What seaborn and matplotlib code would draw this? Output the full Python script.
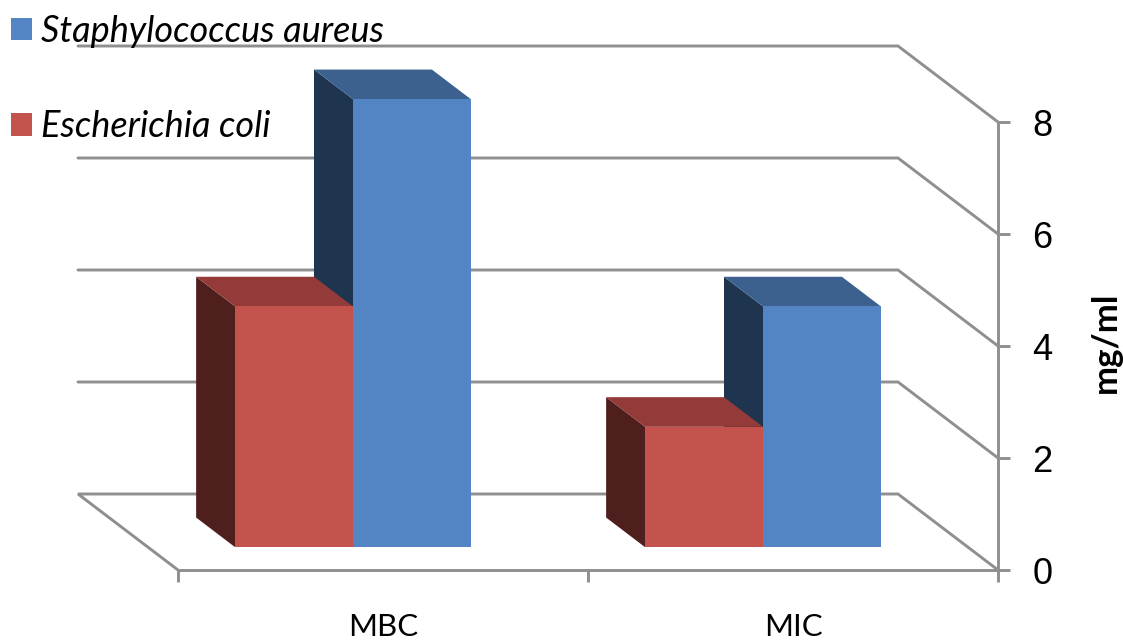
import matplotlib
matplotlib.use("Agg")
import matplotlib.pyplot as plt
from matplotlib.patches import Polygon
import pandas as pd
import seaborn as sns

# Chart values
categories = ["MBC", "MIC"]
e_coli = [4.3, 2.15]
s_aureus = [8, 4.3]
species = ["Escherichia coli", "Staphylococcus aureus"]
y_ticks = [0, 2, 4, 6, 8]
y_label = "mg/ml"

# Face colours: front, side, top
RED = ("#C4534E", "#4F1F1E", "#943A38")
BLUE = ("#5384C3", "#1F344F", "#3C618F")
GREY = "#8F8F8F"
LINE_W = 2.1

W, H = 1123, 642
sns.set_theme(style="white")
plt.rcParams["font.family"] = ["Lato", "DejaVu Sans"]

df = pd.DataFrame({
    "category": categories * 2,
    "species": [species[0]] * 2 + [species[1]] * 2,
    "value": e_coli + s_aureus,
})

fig = plt.figure(figsize=(W / 100, H / 100), dpi=100, facecolor="white")
ax = fig.add_axes([178 / W, (H - 570) / H, 820 / W, 448 / H], facecolor="none")

sns.barplot(
    data=df, x="category", y="value", hue="species", hue_order=species,
    order=categories, palette=[RED[0], BLUE[0]], width=0.575, gap=0,
    saturation=1, legend=False, ax=ax, zorder=5, edgecolor="none", linewidth=0,
)
ax.set_xlim(-0.5, 1.5)
ax.set_ylim(0, 8)

# Oblique projection: depth 1 is the back wall, 100 px left of and 76 px above the front
X_PER_PX = 2 / 820
Y_PER_PX = 8 / 448
SHIFT_X = 100 * X_PER_PX
SHIFT_Y = 76 * Y_PER_PX


def project(x, y, depth):
    return x - depth * SHIFT_X, y + depth * SHIFT_Y


# Back wall gridlines and their returns to the value axis; y = 0 also outlines the floor
for tick in y_ticks:
    points = [project(-0.5, tick, 1), project(1.5, tick, 1), project(1.5, tick, 0)]
    if tick == 0:
        points = [project(-0.5, tick, 0)] + points
    ax.plot(*zip(*points), color=GREY, lw=LINE_W, clip_on=False, zorder=1,
            solid_joinstyle="miter")

FRONT, BACK = 0.30, 0.69


def extrude(bar, side, top, z):
    """Move a bar to the front of its slot and add its left and top faces."""
    x, h, w = bar.get_x(), bar.get_height(), bar.get_width()
    fx, fy = project(x, 0, FRONT)
    bar.set_x(fx)
    bar.set_y(fy)
    bar.set_zorder(z + 0.5)
    bx, by = project(x, 0, BACK)
    ax.add_patch(Polygon(
        [(fx, fy), (fx, fy + h), (bx, by + h), (bx, by)],
        facecolor=side, edgecolor="none", clip_on=False, zorder=z))
    ax.add_patch(Polygon(
        [(fx, fy + h), (fx + w, fy + h), (bx + w, by + h), (bx, by + h)],
        facecolor=top, edgecolor="none", clip_on=False, zorder=z))
    bar.set_clip_on(False)


# The blue bars sit behind the red faces of the same group
for bar in ax.containers[1]:
    extrude(bar, BLUE[1], BLUE[2], 3)
for bar in ax.containers[0]:
    extrude(bar, RED[1], RED[2], 5)

# Axes
for name in ("top", "left"):
    ax.spines[name].set_visible(False)
for name in ("right", "bottom"):
    ax.spines[name].set_color(GREY)
    ax.spines[name].set_linewidth(LINE_W)
    ax.spines[name].set_zorder(2)

ax.set_xlabel("")
ax.set_yticks(y_ticks)
ax.yaxis.tick_right()
ax.tick_params(axis="y", right=True, left=False, length=8.6, width=LINE_W, color=GREY,
               pad=16, labelsize=26, labelcolor="black")
for label in ax.get_yticklabels():
    label.set_fontfamily("Liberation Sans")

ax.set_xticks([-0.5, 0.5, 1.5], minor=True)
ax.tick_params(axis="x", which="minor", bottom=True, length=8.6, width=LINE_W, color=GREY)
ax.tick_params(axis="x", which="major", bottom=False, length=0, pad=31, labelsize=22.5,
               labelcolor="black")

ax.yaxis.set_label_position("right")
ax.set_ylabel(y_label, fontsize=25, fontweight="bold", color="black", labelpad=27, rotation=90)
ax.yaxis.label.set_y(0.5 + 4 / 448)

# Legend, blue entry first
handles = [ax.containers[1][0], ax.containers[0][0]]
fig.legend(
    handles, [species[1], species[0]], loc="upper left",
    bbox_to_anchor=(11 / W, 1 - 15 / H), bbox_transform=fig.transFigure,
    frameon=False, borderpad=0, borderaxespad=0, handlelength=0.58, handleheight=0.58,
    handletextpad=0.24, labelspacing=1.72, labelcolor="black",
    prop={"size": 26, "style": "italic", "family": "Lato"},
).set_zorder(20)

fig.savefig("out.png", dpi=100)
